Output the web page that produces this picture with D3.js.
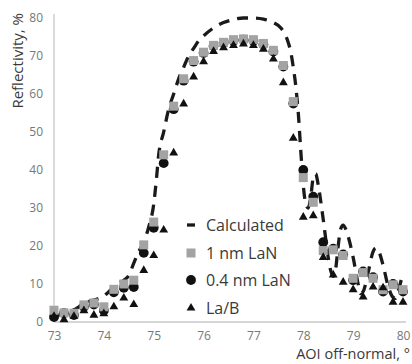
<!DOCTYPE html>
<html>
<head>
<meta charset="utf-8">
<script src="https://cdn.jsdelivr.net/npm/d3@7"></script>
<style>
  body { margin: 0; background: #fff; }
  svg { display: block; font-family: "Open Sans", sans-serif; }
</style>
</head>
<body>
<svg width="412" height="364"></svg>
<script>
// measured angles (deg), shared by the three measured series
var angles = [73.0, 73.2, 73.4, 73.6, 73.8, 74.0, 74.2, 74.4, 74.6, 74.8,
              75.0, 75.2, 75.4, 75.6, 75.8, 76.0, 76.2, 76.4, 76.6, 76.8,
              77.0, 77.2, 77.4, 77.6, 77.8, 78.0, 78.2, 78.4, 78.6, 78.8,
              79.0, 79.2, 79.4, 79.6, 79.8, 80.0];

var lan1 = [3.1, 2.4, 2.3, 4.5, 5.0, 4.0, 8.6, 10.0, 11.0, 20.3,
            26.3, 44.0, 56.8, 64.0, 68.8, 71.0, 72.8, 73.6, 74.3, 74.5,
            74.3, 73.3, 71.5, 67.5, 58.0, 38.0, 31.5, 18.8, 19.0, 17.5,
            11.5, 13.0, 11.5, 8.5, 9.8, 8.5];

var lan04 = [1.3, 2.3, 1.8, 4.0, 4.6, 3.0, 7.8, 9.0, 9.2, 18.2,
             24.8, 41.8, 56.0, 63.5, 68.5, 70.8, 72.6, 73.4, 74.0, 74.3,
             74.0, 73.0, 71.2, 67.2, 57.5, 40.0, 33.0, 21.0, 19.3, 17.8,
             11.0, 13.3, 11.8, 8.0, 10.0, 8.0];

var lab = [1.5, 0.6, 1.5, 3.0, 1.8, 2.2, 4.0, 6.3, 4.6, 13.6,
           17.5, 24.2, 44.5, 57.4, 64.5, 68.5, 71.2, 72.2, 72.8, 73.2,
           72.8, 71.8, 69.2, 63.0, 48.4, 27.6, 28.0, 17.0, 12.4, 10.5,
           8.5, 6.6, 9.2, 9.0, 5.2, 5.2];

// calculated curve
var calcX = [73.0, 73.1, 73.2, 73.3, 73.4, 73.5, 73.6, 73.7, 73.8, 73.9,
             74.0, 74.1, 74.2, 74.3, 74.4, 74.5, 74.6, 74.7, 74.8, 74.9,
             75.0, 75.05, 75.1, 75.2, 75.3, 75.4, 75.5, 75.6, 75.7, 75.8,
             75.9, 76.0, 76.2, 76.4, 76.6, 76.8, 77.0, 77.2, 77.4, 77.5,
             77.6, 77.7, 77.75, 77.8, 77.85, 77.9, 77.95, 78.0, 78.05, 78.1,
             78.15, 78.2, 78.25, 78.3, 78.4, 78.5, 78.55, 78.6, 78.65, 78.7,
             78.75, 78.8, 78.85, 78.9, 79.0, 79.1, 79.15, 79.2, 79.3, 79.4,
             79.45, 79.5, 79.6, 79.7, 79.8, 79.85, 79.9, 80.0];
var calcY = [1.0, 1.8, 2.5, 2.8, 3.2, 4.0, 4.8, 5.4, 5.8, 6.2,
             6.8, 8.0, 9.2, 10.2, 11.0, 12.2, 15.5, 18.5, 21.0, 25.0,
             31.0, 37.0, 44.0, 50.0, 56.0, 60.0, 64.0, 67.0, 70.0, 72.0,
             74.0, 75.3, 77.4, 78.8, 79.6, 80.0, 80.0, 79.7, 78.8, 78.0,
             76.5, 73.5, 71.0, 67.0, 62.0, 55.0, 45.0, 36.0, 31.0, 30.0,
             33.0, 38.0, 39.0, 36.0, 27.0, 17.0, 13.5, 12.0, 14.0, 20.0,
             24.5, 25.5, 24.5, 22.5, 17.0, 10.0, 7.5, 8.0, 13.0, 18.5,
             19.5, 19.0, 15.0, 9.5, 6.5, 6.2, 8.0, 13.0];

var xTicks = [73, 74, 75, 76, 77, 78, 79, 80];
var yTicks = [0, 10, 20, 30, 40, 50, 60, 70, 80];
var seriesNames = ["Calculated", "1 nm LaN", "0.4 nm LaN", "La/B"];

var svg = d3.select("svg");

var x = d3.scaleLinear().domain([73, 80]).range([54, 403]),
    y = d3.scaleLinear().domain([0, 80]).range([322, 18]);

var axisColor = "#c8c8c8", labelColor = "#777", textColor = "#3a3a3a";

// axes
var gx = svg.append("g")
    .attr("transform", "translate(0,322)")
    .call(d3.axisBottom(x).tickValues(xTicks).tickSize(0).tickPadding(9).tickFormat(d3.format("d")));
gx.select(".domain").remove();
gx.append("line")
    .attr("x1", 54).attr("x2", 406)
    .attr("stroke", axisColor).attr("stroke-width", 1.3);

var gy = svg.append("g")
    .attr("transform", "translate(54,0)")
    .call(d3.axisLeft(y).tickValues(yTicks).tickSize(0).tickPadding(11));
gy.select(".domain").remove();
gy.append("line")
    .attr("y1", 14).attr("y2", 322)
    .attr("stroke", axisColor).attr("stroke-width", 1.3);

svg.selectAll(".tick text")
    .attr("fill", labelColor)
    .style("font-size", "12px")
    .style("font-family", "Open Sans, sans-serif");

// axis titles
svg.append("text")
    .attr("transform", "translate(23,13) rotate(-90)")
    .attr("text-anchor", "end")
    .attr("fill", textColor)
    .style("font-size", "15px")
    .text("Reflectivity, %");

svg.append("text")
    .attr("x", 410).attr("y", 359)
    .attr("text-anchor", "end")
    .attr("fill", textColor)
    .style("font-size", "14.5px")
    .text("AOI off-normal, °");

// calculated curve
var line = d3.line()
    .x(function(d, i) { return x(calcX[i]); })
    .y(function(d) { return y(d); })
    .curve(d3.curveMonotoneX);

svg.append("path")
    .datum(calcY)
    .attr("d", line)
    .attr("fill", "none")
    .attr("stroke", "#1a1a1a")
    .attr("stroke-width", 3.3)
    .attr("stroke-dasharray", "11,8");

// measured points
svg.append("g").selectAll("circle")
    .data(lan04)
  .enter().append("circle")
    .attr("cx", function(d, i) { return x(angles[i]); })
    .attr("cy", function(d) { return y(d); })
    .attr("r", 4.9)
    .attr("fill", "#111");

svg.append("g").selectAll("rect")
    .data(lan1)
  .enter().append("rect")
    .attr("x", function(d, i) { return x(angles[i]) - 4.5; })
    .attr("y", function(d) { return y(d) - 4.5; })
    .attr("width", 9).attr("height", 9)
    .attr("fill", "#a3a3a3");

var tri = d3.symbol().type(d3.symbolTriangle).size(34);
svg.append("g").selectAll("path")
    .data(lab)
  .enter().append("path")
    .attr("d", tri)
    .attr("transform", function(d, i) { return "translate(" + x(angles[i]) + "," + y(d) + ")"; })
    .attr("fill", "#111");

// legend
var legY = [225, 253, 280, 308];
var leg = svg.append("g");
seriesNames.forEach(function(name, i) {
  var g = leg.append("g").attr("transform", "translate(191," + legY[i] + ")");
  if (i == 0) g.append("line").attr("x1", -4).attr("x2", 4).attr("stroke", "#1a1a1a").attr("stroke-width", 3.3);
  if (i == 1) g.append("rect").attr("x", -4.5).attr("y", -4.5).attr("width", 9).attr("height", 9).attr("fill", "#a3a3a3");
  if (i == 2) g.append("circle").attr("r", 4.9).attr("fill", "#111");
  if (i == 3) g.append("path").attr("d", tri).attr("fill", "#111");
  g.append("text")
      .attr("x", 15).attr("dy", "0.35em")
      .attr("fill", textColor)
      .style("font-size", "16px")
      .text(name);
});
</script>
</body>
</html>
